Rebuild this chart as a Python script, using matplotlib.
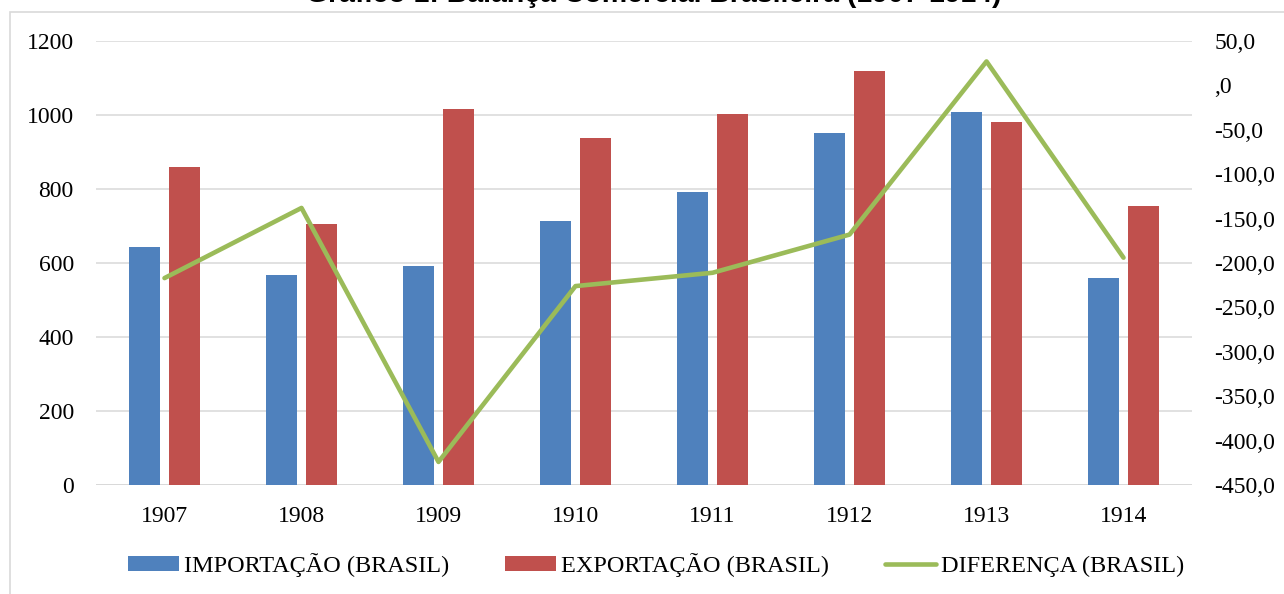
import numpy as np
import matplotlib
matplotlib.use("Agg")
import matplotlib.pyplot as plt
from matplotlib.patches import Rectangle
from matplotlib.ticker import FuncFormatter, MultipleLocator

anos = ["1907", "1908", "1909", "1910", "1911", "1912", "1913", "1914"]
importacao = [643, 567, 592, 713, 792, 951, 1007, 560]
exportacao = [860, 705, 1016, 939, 1003, 1118, 980, 754]
diferenca = [-217, -138, -424, -226, -211, -168, 27, -194]

titulo = "Gráfico 1: Balança Comercial Brasileira (1907-1914)"
rotulos = ["IMPORTAÇÃO (BRASIL)", "EXPORTAÇÃO (BRASIL)", "DIFERENÇA (BRASIL)"]

azul = "#4F81BD"
vermelho = "#C0504D"
verde = "#9BBB59"
cinza = "#D9D9D9"

plt.rcParams['font.family'] = ['Liberation Serif', 'DejaVu Serif']
fs = 17

fig = plt.figure(figsize=(12.84, 5.94), dpi=100)
ax = fig.add_axes([96 / 1284, 1 - 485 / 594, (1192 - 96) / 1284, (485 - 41) / 594])

x = np.arange(len(anos))
largura = 0.225
desloc = 0.144
b1 = ax.bar(x - desloc, importacao, largura, color=azul, zorder=2, label=rotulos[0])
b2 = ax.bar(x + desloc, exportacao, largura, color=vermelho, zorder=2, label=rotulos[1])

ax.set_xlim(-0.5, 7.5)
ax.set_ylim(0, 1200)
ax.yaxis.set_major_locator(MultipleLocator(200))
ax.set_xticks(x)
ax.set_xticklabels(anos)
ax.grid(axis='y', color=cinza, linewidth=1.1, zorder=0)
ax.set_axisbelow(True)
for s in ['top', 'right', 'left', 'bottom']:
    ax.spines[s].set_visible(False)
ax.tick_params(axis='both', length=0, labelsize=fs, colors='black')
ax.tick_params(axis='y', pad=16)
ax.tick_params(axis='x', pad=15)

ax2 = ax.twinx()
linha, = ax2.plot(x, diferenca, color=verde, linewidth=3.3, solid_capstyle='round',
                  solid_joinstyle='round', zorder=3, label=rotulos[2])
ax2.set_ylim(-450, 50)
ax2.yaxis.set_major_locator(MultipleLocator(50))


def fmt(v, pos):
    if abs(v) < 1e-9:
        return ",0"
    return f"{v:.1f}".replace('.', ',')


ax2.yaxis.set_major_formatter(FuncFormatter(fmt))
for s in ['top', 'right', 'left', 'bottom']:
    ax2.spines[s].set_visible(False)
ax2.tick_params(axis='y', length=0, labelsize=fs, pad=16, colors='black')

# linha do eixo zero por cima das barras
ax.axhline(0, color=cinza, linewidth=1.3, zorder=1)

fig.legend([b1, b2, linha], rotulos, loc='center',
           bbox_to_anchor=(0.5 + 14 / 1284, 1 - 565 / 594),
           ncol=3, frameon=False, fontsize=17.5, handlelength=2.1, handleheight=0.62,
           handletextpad=0.2, columnspacing=2.3)

# titulo cortado no topo, como na imagem original
fig.text(654 / 1284, 1 - 2 / 594, titulo, ha='center', va='baseline', fontsize=20.5,
         fontweight='bold', family=['Liberation Sans', 'DejaVu Sans'])

fig.patches.append(Rectangle((10 / 1284, -0.1), 2, 1.1 - 12 / 594, transform=fig.transFigure,
                             fill=False, edgecolor=cinza, linewidth=1.2))

fig.savefig("out.png", dpi=100)
